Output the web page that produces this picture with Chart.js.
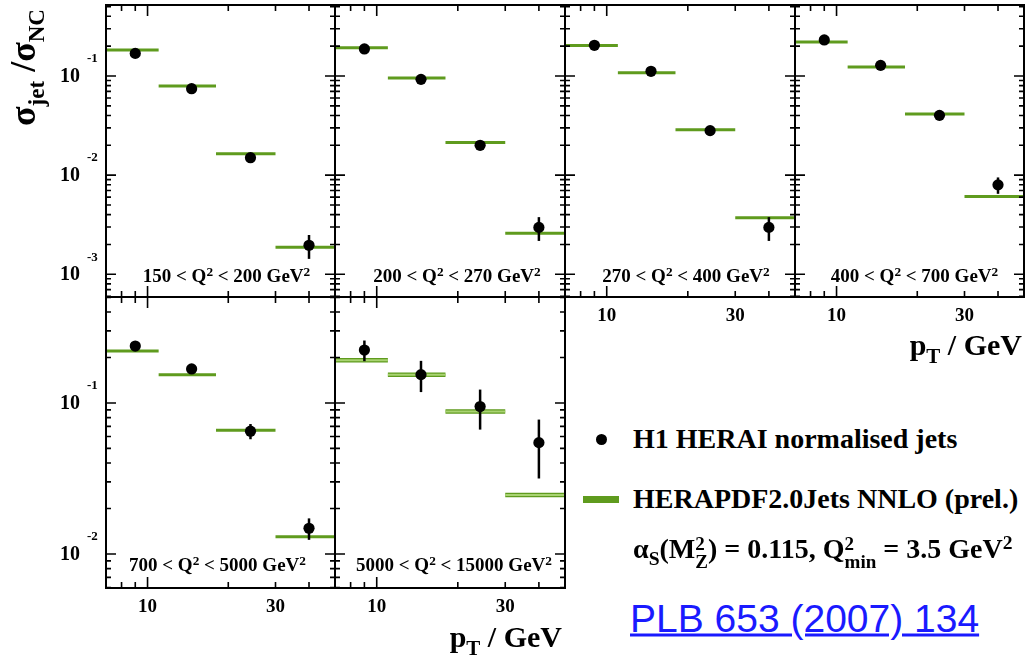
<!DOCTYPE html>
<html>
<head>
<meta charset="utf-8">
<script src="https://cdn.jsdelivr.net/npm/chart.js@4/dist/chart.umd.min.js"></script>
<style>
  body { margin: 0; background: #fff; overflow: hidden; }
  #page { position: relative; width: 1025px; height: 659px; font-family: "Liberation Serif", serif; font-weight: bold; color: #000; }
  #page canvas { position: absolute; }
  .txt { position: absolute; white-space: nowrap; line-height: 1; }
  .lo { position: relative; top: 0.3em; font-size: 0.7em; }
  .hi { position: relative; top: -0.45em; font-size: 0.7em; }
  .stk { display: inline-flex; flex-direction: column; font-size: 0.68em; vertical-align: 0.42em; line-height: 0.95; text-align: left; }
</style>
</head>
<body>
<div id="page"></div>
<script>
// pT bins (GeV) and mean pT of the data points
const ptEdges = [7, 11, 18, 30, 50];
const ptMean = [9.0, 14.6, 24.2, 40.0];

// Q2 ranges of the six panels (GeV^2)
const q2Low = [150, 200, 270, 400, 700, 5000];
const q2High = [200, 270, 400, 700, 5000, 15000];

// H1 normalised jet cross sections, errors, and NNLO prediction per panel
const h1Panel1 = [0.169, 0.0744, 0.0150, 0.00196];
const errPanel1 = [0.004, 0.0018, 0.0005, 0.00053];
const nnloPanel1 = [0.183, 0.0792, 0.0164, 0.00187];

const h1Panel2 = [0.1875, 0.0925, 0.0200, 0.00297];
const errPanel2 = [0.004, 0.002, 0.0006, 0.0008];
const nnloPanel2 = [0.193, 0.0955, 0.0214, 0.00260];

const h1Panel3 = [0.204, 0.1115, 0.0281, 0.00297];
const errPanel3 = [0.004, 0.0025, 0.0008, 0.0008];
const nnloPanel3 = [0.203, 0.108, 0.0287, 0.00371];

const h1Panel4 = [0.231, 0.128, 0.0401, 0.00798];
const errPanel4 = [0.005, 0.003, 0.0012, 0.0015];
const nnloPanel4 = [0.220, 0.123, 0.0413, 0.0061];

const h1Panel5 = [0.238, 0.168, 0.0650, 0.0148];
const errPanel5 = [0.006, 0.006, 0.0075, 0.0024];
const nnloPanel5 = [0.221, 0.154, 0.0660, 0.0130];

const h1Panel6 = [0.224, 0.154, 0.0946, 0.0546];
const errPanel6 = [0.035, 0.036, 0.028, 0.023];
const nnloPanel6 = [0.192, 0.154, 0.0876, 0.0246];

// axes
const yRangeTop = [5.9e-4, 0.52];
const yRangeBottom = [5.95e-3, 0.503];
const xRange = [7, 50];
const xTickMarks = [8, 9, 10, 20, 30, 40];
const xTickLabels = [10, 30];

const h1Values = [h1Panel1, h1Panel2, h1Panel3, h1Panel4, h1Panel5, h1Panel6];
const h1Errors = [errPanel1, errPanel2, errPanel3, errPanel4, errPanel5, errPanel6];
const nnloValues = [nnloPanel1, nnloPanel2, nnloPanel3, nnloPanel4, nnloPanel5, nnloPanel6];

// layout
const colEdges = [106, 335, 565, 795, 1024];
const rowEdges = [5, 297, 588];
const panelPos = [
  { col: 0, row: 0, yLabels: true, xLabels: false, shift: 6 },
  { col: 1, row: 0, yLabels: false, xLabels: false, shift: 7 },
  { col: 2, row: 0, yLabels: false, xLabels: true, shift: 6 },
  { col: 3, row: 0, yLabels: false, xLabels: true, shift: 5 },
  { col: 0, row: 1, yLabels: true, xLabels: true, shift: -3 },
  { col: 1, row: 1, yLabels: false, xLabels: true, shift: 4 },
];

const GREEN = "#5f9b1e";
const GREEN_LIGHT = "#a9d372";
const page = document.getElementById("page");

const addText = (html, left, top, css) => {
  const el = document.createElement("div");
  el.className = "txt";
  el.innerHTML = html;
  el.style.left = left + "px";
  el.style.top = top + "px";
  Object.assign(el.style, css || {});
  page.appendChild(el);
  return el;
};

const stepData = (vals) => {
  const out = [];
  vals.forEach((v, i) => {
    out.push({ x: ptEdges[i], y: v }, { x: ptEdges[i + 1], y: v }, { x: ptEdges[i + 1], y: null });
  });
  return out;
};

const frameTicks = {
  id: "frameTicks",
  afterDatasetsDraw(chart) {
    const ctx = chart.ctx;
    const ys = chart.scales.y;
    const meta = chart.getDatasetMeta(0);
    const errs = chart.data.datasets[0].errors;
    const vals = chart.data.datasets[0].data;
    ctx.save();
    ctx.strokeStyle = "#000";
    ctx.lineWidth = 2.5;
    meta.data.forEach((pt, i) => {
      const v = vals[i].y;
      ctx.beginPath();
      ctx.moveTo(pt.x, ys.getPixelForValue(v + errs[i]));
      ctx.lineTo(pt.x, ys.getPixelForValue(v - errs[i]));
      ctx.stroke();
    });
    ctx.restore();
  },
  afterDraw(chart, args, opts) {
    const ctx = chart.ctx;
    const { left, right, top, bottom } = chart.chartArea;
    const xs = chart.scales.x;
    const ys = chart.scales.y;
    ctx.save();
    ctx.strokeStyle = "#000";
    ctx.fillStyle = "#000";
    ctx.lineWidth = 2;
    ctx.strokeRect(left, top, right - left, bottom - top);

    ctx.lineWidth = 1.6;
    xTickMarks.forEach((v) => {
      const x = xs.getPixelForValue(v);
      const len = v === 10 ? 11 : 6;
      ctx.beginPath();
      ctx.moveTo(x, bottom);
      ctx.lineTo(x, bottom - len);
      ctx.moveTo(x, top);
      ctx.lineTo(x, top + len);
      ctx.stroke();
    });

    const e0 = Math.floor(Math.log10(ys.min));
    const e1 = Math.ceil(Math.log10(ys.max));
    const decades = [];
    for (let e = e0; e <= e1; e++) {
      for (let m = 1; m <= 9; m++) {
        const v = m * Math.pow(10, e);
        if (v <= ys.min || v >= ys.max) continue;
        const y = ys.getPixelForValue(v);
        const len = m === 1 ? 10 : 5;
        if (m === 1) decades.push({ e, y });
        ctx.beginPath();
        ctx.moveTo(left, y);
        ctx.lineTo(left + len, y);
        ctx.moveTo(right, y);
        ctx.lineTo(right - len, y);
        ctx.stroke();
      }
    }

    if (opts.yLabels) {
      decades.forEach(({ e, y }) => {
        ctx.font = 'bold 20px "Liberation Serif"';
        ctx.textAlign = "right";
        ctx.textBaseline = "middle";
        ctx.fillText("10", left - 26, y + 1);
        ctx.font = 'bold 13px "Liberation Serif"';
        ctx.textAlign = "left";
        ctx.fillText(String(e), left - 19, y - 17);
      });
    }
    if (opts.xLabels) {
      ctx.font = 'bold 19px "Liberation Serif"';
      ctx.textAlign = "center";
      ctx.textBaseline = "alphabetic";
      xTickLabels.forEach((v) => {
        ctx.fillText(String(v), xs.getPixelForValue(v), bottom + 24);
      });
    }
    ctx.restore();
  },
};

panelPos.forEach((p, idx) => {
  const x0 = colEdges[p.col], x1 = colEdges[p.col + 1];
  const y0 = rowEdges[p.row], y1 = rowEdges[p.row + 1];
  const pad = { left: p.yLabels ? x0 : 2, right: 2, top: 2, bottom: p.xLabels ? 40 : 2 };
  const canvas = document.createElement("canvas");
  canvas.width = pad.left + (x1 - x0) + pad.right;
  canvas.height = pad.top + (y1 - y0) + pad.bottom;
  canvas.style.left = x0 - pad.left + "px";
  canvas.style.top = y0 - pad.top + "px";
  page.appendChild(canvas);

  const yRange = p.row === 0 ? yRangeTop : yRangeBottom;
  const datasets = [
    {
      label: "H1 HERAI normalised jets",
      data: h1Values[idx].map((v, i) => ({ x: ptMean[i], y: v })),
      errors: h1Errors[idx],
      showLine: false,
      pointRadius: 5.6,
      pointBackgroundColor: "#000",
      pointBorderWidth: 0,
    },
  ];
  if (idx === 5) {
    datasets.push({
      label: "band inner",
      data: stepData(nnloValues[idx]),
      borderColor: GREEN_LIGHT,
      borderWidth: 2,
      pointRadius: 0,
    });
  }
  datasets.push({
    label: "HERAPDF2.0Jets NNLO (prel.)",
    data: stepData(nnloValues[idx]),
    borderColor: GREEN,
    borderWidth: idx === 5 ? 4.5 : 3,
    pointRadius: 0,
    spanGaps: false,
  });

  new Chart(canvas, {
    type: "line",
    data: { datasets },
    options: {
      responsive: false,
      animation: false,
      layout: { padding: pad, autoPadding: false },
      plugins: { legend: { display: false }, tooltip: { enabled: false }, frameTicks: { yLabels: p.yLabels, xLabels: p.xLabels } },
      scales: {
        x: { type: "logarithmic", min: xRange[0], max: xRange[1], bounds: "data", display: false },
        y: { type: "logarithmic", min: yRange[0], max: yRange[1], bounds: "data", display: false },
      },
    },
    plugins: [frameTicks],
  });

  const cx = (x0 + x1) / 2 + p.shift;
  const cy = p.row === 0 ? 275 : 564;
  addText(
    `${q2Low[idx]} &lt; Q<span class="hi">2</span> &lt; ${q2High[idx]} GeV<span class="hi">2</span>`,
    cx, cy, { fontSize: "19px", transform: "translate(-50%, -50%)" }
  );
});

// axis titles
addText(
  `<span style="font-size:36px">σ</span><span class="lo" style="font-size:23px;top:9px">jet</span><span style="font-size:36px"> /σ</span><span class="lo" style="font-size:23px;top:9px">NC</span>`,
  5, 126, { transformOrigin: "0 0", transform: "rotate(-90deg)" }
);
addText(`p<span class="lo" style="font-size:21px;top:8px">T</span> / GeV`, 0, 345, { fontSize: "30px", left: "auto", right: "3px", transform: "translateY(-50%)" });
addText(`p<span class="lo" style="font-size:21px;top:8px">T</span> / GeV`, 0, 637, { fontSize: "30px", left: "auto", right: "463px", transform: "translateY(-50%)" });

// legend
addText("", 596, 434, { width: "11px", height: "11px", borderRadius: "50%", background: "#000" });
addText("", 583, 496, { width: "36px", height: "7px", background: GREEN });
addText("H1 HERAI normalised jets", 633, 439, { fontSize: "28px", transform: "translateY(-50%)" });
addText("HERAPDF2.0Jets NNLO (prel.)", 633, 499, { fontSize: "28px", transform: "translateY(-50%)" });
addText(
  `α<span class="lo" style="top:7px">S</span>(M<span class="stk"><span>2</span><span>Z</span></span>) = 0.115, Q<span class="stk"><span>2</span><span>min</span></span> = 3.5 GeV<span class="hi">2</span>`,
  633, 553, { fontSize: "28px", transform: "translateY(-50%)" }
);
addText("PLB 653 (2007) 134", 630, 618, {
  fontFamily: '"Liberation Sans", sans-serif', fontWeight: "normal", fontSize: "39px",
  color: "#1a1aff", textDecoration: "underline", transform: "translateY(-50%)",
});
</script>
</body>
</html>
